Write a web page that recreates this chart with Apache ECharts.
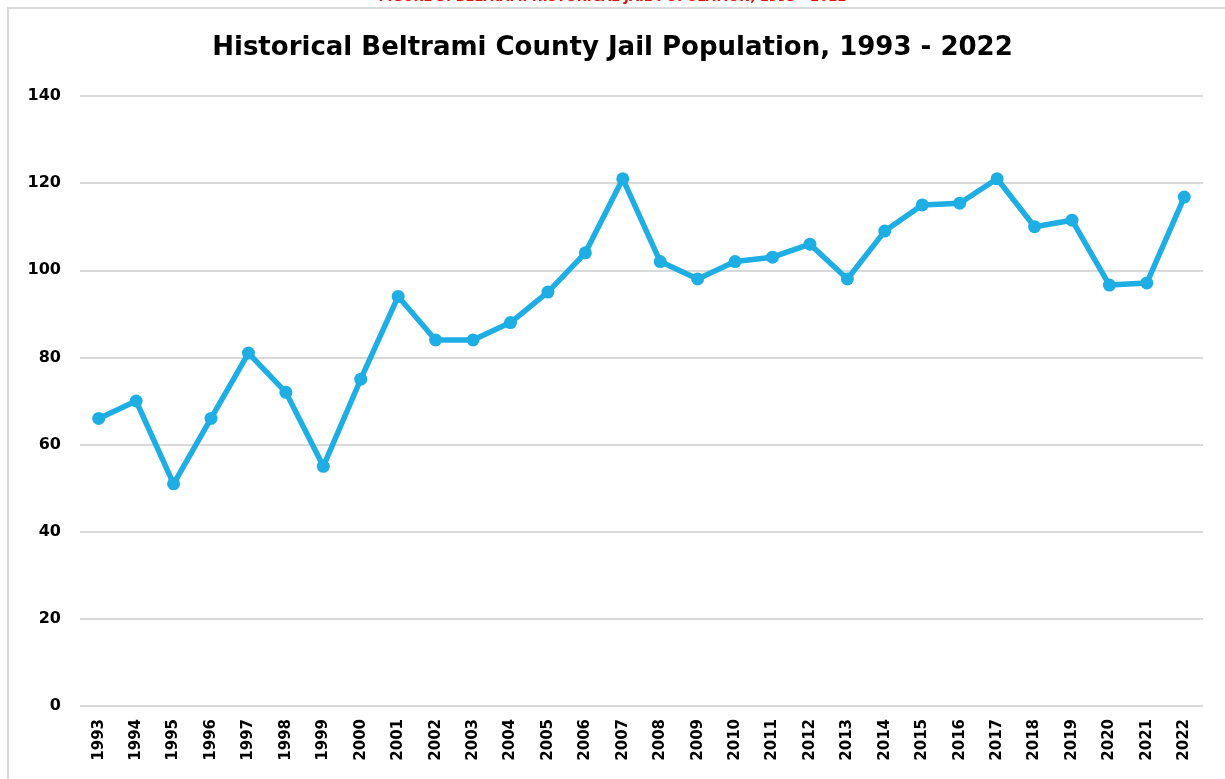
<!DOCTYPE html>
<html>
<head>
<meta charset="utf-8">
<script src="https://cdn.jsdelivr.net/npm/echarts@6/dist/echarts.min.js"></script>
<style>
  html, body { margin: 0; padding: 0; background: #fff; }
  #chart { width: 1225px; height: 779px; }
</style>
</head>
<body>
<div id="chart"></div>
<script>
  // years and jail population
  const years = ['1993','1994','1995','1996','1997','1998','1999','2000','2001','2002',
                 '2003','2004','2005','2006','2007','2008','2009','2010','2011','2012',
                 '2013','2014','2015','2016','2017','2018','2019','2020','2021','2022']
  const population = [66, 70, 51, 66, 81, 72, 55, 75, 94, 84,
                      84, 88, 95, 104, 121, 102, 98, 102, 103, 106,
                      98, 109, 115, 115.4, 121, 110, 111.5, 96.6, 97.1, 116.8]
  const titleText = 'Historical Beltrami County Jail Population, 1993 - 2022'
  const figureText = 'FIGURE 3: BELTRAMI HISTORICAL JAIL POPULATION, 1993 - 2022'

  let chart = echarts.init(document.getElementById('chart'))
  let options = {
    backgroundColor: '#fff',
    animation: false,
    textStyle: { fontFamily: 'DejaVu Sans' },
    title: {
      text: titleText,
      left: 'center',
      top: 30,
      textStyle: { fontSize: 26, fontWeight: 'bold', color: '#000', fontFamily: 'DejaVu Sans' }
    },
    graphic: [
      {
        type: 'rect',
        shape: { x: 8, y: 8, width: 1230, height: 800 },
        style: { fill: 'none', stroke: '#d9d9d9', lineWidth: 2 },
        silent: true
      },
      {
        type: 'text',
        left: 'center',
        top: -9,
        style: { text: figureText, fill: '#e3120b', font: 'bold 13px "DejaVu Sans"' },
        silent: true
      }
    ],
    grid: { left: 80, right: 22, top: 96, bottom: 73, containLabel: false },
    xAxis: {
      type: 'category',
      data: years,
      boundaryGap: true,
      axisLine: { show: false },
      axisTick: { show: false },
      axisLabel: {
        rotate: 90,
        margin: 13,
        color: '#000',
        fontSize: 15,
        fontWeight: 'bold',
        interval: 0
      }
    },
    yAxis: {
      type: 'value',
      min: 0,
      max: 140,
      interval: 20,
      axisLine: { show: false },
      axisTick: { show: false },
      axisLabel: { color: '#000', fontSize: 16, fontWeight: 'bold', margin: 19 },
      splitLine: { lineStyle: { color: '#d9d9d9', width: 2 } }
    },
    series: [
      {
        type: 'line',
        data: population,
        symbol: 'circle',
        symbolSize: 13,
        itemStyle: { color: '#1eaee4' },
        lineStyle: { color: '#1eaee4', width: 5.5 }
      }
    ]
  }
  chart.setOption(options)
</script>
</body>
</html>
